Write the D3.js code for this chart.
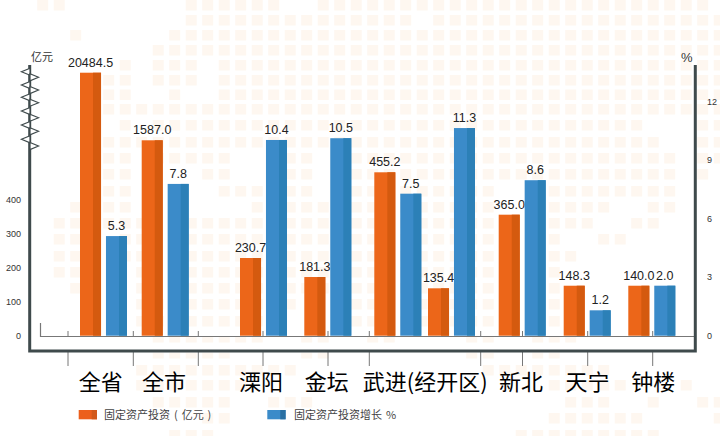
<!DOCTYPE html>
<html>
<head>
<meta charset="utf-8">
<script src="https://cdn.jsdelivr.net/npm/d3@7"></script>
<style>
  body { margin: 0; background: #fff; }
  text { font-family: "Liberation Sans", Arial, sans-serif; }
  .cjk { font-family: "Noto Sans CJK SC", sans-serif; }
</style>
</head>
<body>
<div id="chart"></div>
<script>
// data
var groups = ["全省", "全市", "溧阳", "金坛", "武进A", "武进B", "新北", "天宁", "钟楼"];
var investLabels = ["20484.5", "1587.0", "230.7", "181.3", "455.2", "135.4", "365.0", "148.3", "140.0"];
var growthLabels = ["5.3", "7.8", "10.4", "10.5", "7.5", "11.3", "8.6", "1.2", "2.0"];
// bar heights as drawn, read against the axes (first two bars sit above the axis break)
var investBars = [773.5, 574.7, 228.5, 172.6, 480.6, 139.4, 355.9, 147, 147];
var growthBars = [5.1, 7.77, 10.02, 10.11, 7.27, 10.63, 7.96, 1.3, 2.56];
var investTicks = [0, 100, 200, 300, 400];
var growthTicks = [0, 3, 6, 9, 12];
var categories = ["全省", "全市", "溧阳", "金坛", "武进(经开区)", "新北", "天宁", "钟楼"];
var seriesNames = ["固定资产投资 ( 亿元 )", "固定资产投资增长 %"];

// background tile map: occupied columns per row
var bgRows = [
  "2-3 11-16 19-42", "11-24 26-43", "4 10-43", "9-43", "7 9-11 13-43", "6-7 9-11 13-43",
  "6-7 10 13-43", "6-43", "7 9-38 42-43", "6-39 42-43", "6-7 9-13 17-18 21-40 42-43",
  "6-7 12-13 17-18 21-40 42", "6-7 13-18 21-29 33-40", "4 6-7 15-19 21-29 33-36 39-40",
  "3-4 6-8 11-19 21-29 33-35 38-39", "3-4 7-8 11-19 21-29 33 36-37", "3-4 7-8 11-19 21-29 33-34",
  "3-4 8 11-19 21-29 33", "4 8 11-19 21-29 33", "8-9 11-15 17 21-29 33", "8-9 11-15 21-29 33",
  "9-15 18-19 22-23 28-29 32-34", "9-13 18-19 28-29 32-33", "8-17 29-36", "8-14 33-37 41",
  "9-13 16-18 34-36 39 42-43", "12-13 33-38 43", "10-12 31-39"
];

var svg = d3.select("#chart").append("svg")
    .attr("width", 720)
    .attr("height", 436)
    .style("display", "block");

// background tiles
var rowTop = [0, 15, 30, 45, 60, 75, 89.5, 104, 120, 137, 153, 169, 186, 202, 218, 234, 251, 267, 283, 299, 316, 332, 348, 365, 380, 397, 413, 430];
var bg = svg.append("g").attr("fill", "#fef7f0");
bgRows.forEach(function (row, r) {
    row.split(" ").forEach(function (part) {
        var ends = part.split("-").map(Number);
        d3.range(ends[0], (ends[1] === undefined ? ends[0] : ends[1]) + 1).forEach(function (c) {
            bg.append("rect")
                .attr("x", 4.2 + 16.5 * c)
                .attr("y", rowTop[r])
                .attr("width", 11)
                .attr("height", 10.5);
        });
    });
});
// the plot frame hides the upper part of the two rows around the baseline
svg.append("rect").attr("x", 31).attr("y", 327).attr("width", 663).attr("height", 9.5).attr("fill", "#fff");
svg.append("rect").attr("x", 0).attr("y", 343).attr("width", 720).attr("height", 9.5).attr("fill", "#fff");

// scales
var baseY = 335.7;
var yLeft = d3.scaleLinear().domain([0, 400]).range([baseY, baseY - 136]);
var yRight = d3.scaleLinear().domain([0, 12]).range([baseY, baseY - 234.4]);
var x0 = d3.scaleOrdinal().domain(groups)
    .range([80, 141.7, 240, 304.3, 374.3, 428, 498.7, 563.7, 628.3]);
var x1 = d3.scaleBand().domain(["invest", "growth"]).range([0, 47]).paddingInner(0.19);
var xCat = d3.scaleOrdinal().domain(categories)
    .range([100.8, 164, 261, 326.7, 425.3, 521, 587.5, 653.3]);
var tickX = [68, 133.3, 198.3, 263, 328, 369.3, 480.7, 522.5, 587.7, 652.7];

// inner axis
var grey = "#777";
svg.append("path")
    .attr("d", "M40.5,323V336.5H694")
    .attr("fill", "none")
    .attr("stroke", grey)
    .attr("stroke-width", 1.2);
svg.append("g").selectAll("line").data(tickX).enter().append("line")
    .attr("x1", d => d).attr("x2", d => d)
    .attr("y1", 331).attr("y2", 336)
    .attr("stroke", grey);
svg.append("g").selectAll("line").data(tickX).enter().append("line")
    .attr("x1", d => d).attr("x2", d => d)
    .attr("y1", 352).attr("y2", 366)
    .attr("stroke", grey);

// frame
svg.append("path")
    .attr("d", "M29.7,65V351H695.3V65")
    .attr("fill", "none")
    .attr("stroke", "#3f4a4c")
    .attr("stroke-width", 3);

// axis break marks
var breaks = [[71.7, -1], [77.3, 1], [85, -1], [90, 1], [97.3, -1], [102.7, 1], [111, -1], [117.7, 1], [125, -1], [131.3, 1], [139.3, -1], [146, 1]];
svg.append("g").selectAll("path").data(breaks).enter().append("path")
    .attr("d", d => "M30," + (d[0] - 3.5) + "L" + (30 + d[1] * 8.5) + "," + d[0] + "L30," + (d[0] + 3.5) + "Z")
    .attr("fill", "#fff")
    .attr("stroke", "#3f4a4c")
    .attr("stroke-width", 1.2);

// bars
function drawBars(values, labels, key, y, main, dark) {
    var g = svg.append("g").selectAll("g").data(groups).enter().append("g")
        .attr("transform", d => "translate(" + (x0(d) + x1(key)) + ",0)");
    g.append("rect")
        .attr("width", x1.bandwidth())
        .attr("y", (d, i) => y(values[i]))
        .attr("height", (d, i) => baseY - y(values[i]))
        .attr("fill", main);
    g.append("rect")
        .attr("x", x1.bandwidth() * 0.62)
        .attr("width", x1.bandwidth() * 0.38)
        .attr("y", (d, i) => y(values[i]))
        .attr("height", (d, i) => baseY - y(values[i]))
        .attr("fill", dark);
    g.append("text")
        .attr("x", x1.bandwidth() / 2)
        .attr("y", (d, i) => y(values[i]) - 6)
        .attr("text-anchor", "middle")
        .attr("font-size", 12.5)
        .attr("fill", "#222")
        .text((d, i) => labels[i]);
}
drawBars(investBars, investLabels, "invest", yLeft, "#ec6619", "#d45a0f");
drawBars(growthBars, growthLabels, "growth", yRight, "#3b8bc9", "#2c80b7");

// tick labels
var leftAxis = d3.axisLeft(yLeft).tickValues(investTicks).tickSize(0).tickPadding(0);
var rightAxis = d3.axisRight(yRight).tickValues(growthTicks).tickSize(0).tickPadding(0);
var gl = svg.append("g").attr("transform", "translate(21,0)").call(leftAxis);
var gr = svg.append("g").attr("transform", "translate(707,0)").call(rightAxis);
[gl, gr].forEach(function (g) {
    g.select(".domain").remove();
    g.selectAll("text")
        .attr("font-family", "Liberation Sans")
        .attr("font-size", 9)
        .attr("fill", "#333");
});

// axis titles
svg.append("text").attr("class", "cjk")
    .attr("x", 31).attr("y", 61)
    .attr("font-size", 11).attr("fill", "#333")
    .text("亿元");
svg.append("text")
    .attr("x", 681).attr("y", 61.5)
    .attr("font-size", 13).attr("fill", "#333")
    .text("%");

// category labels
svg.append("g").selectAll("text").data(categories).enter().append("text")
    .attr("class", "cjk")
    .attr("x", d => xCat(d))
    .attr("y", 390)
    .attr("text-anchor", "middle")
    .attr("font-size", 22)
    .attr("fill", "#000")
    .text(d => d);

// legend
[[78.7, "#ec5f1c", "#d2591b", 104], [267.3, "#3b8bc9", "#2a70a3", 294]].forEach(function (s, i) {
    svg.append("rect").attr("x", s[0]).attr("y", 410).attr("width", 18.3).attr("height", 9.3).attr("fill", s[1]);
    svg.append("rect").attr("x", s[0] + 13).attr("y", 410).attr("width", 5.3).attr("height", 9.3).attr("fill", s[2]);
    svg.append("text").attr("class", "cjk")
        .attr("x", s[3]).attr("y", 418.5)
        .attr("font-size", 11).attr("fill", "#444")
        .attr("word-spacing", 1.5)
        .text(seriesNames[i]);
});
</script>
</body>
</html>
